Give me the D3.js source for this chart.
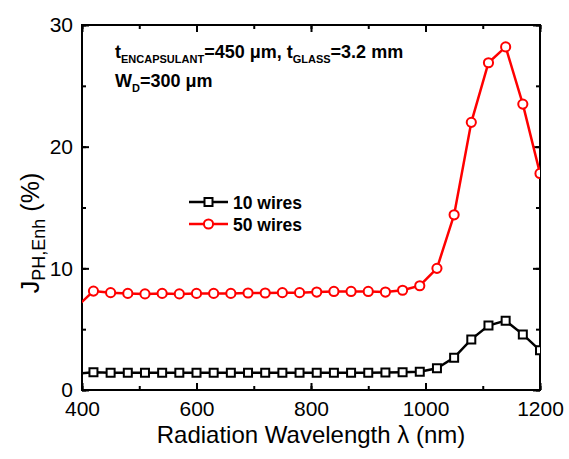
<!DOCTYPE html>
<html>
<head>
    <meta charset="utf-8">
    <style>
        body { margin: 0; background: #fff; }
        text { font-family: "Liberation Sans", Arial, sans-serif; }
        .axis path, .axis line { stroke: #000; }
        .axis text { font-size: 21px; fill: #000; }
        .note { font-size: 18px; font-weight: bold; }
    </style>
</head>
<body>
<div id="chart"></div>
<script src="https://cdn.jsdelivr.net/npm/d3@7"></script>
<script>

    // wavelengths (nm), one value every 30 nm
    var wavelength = [390, 420, 450, 480, 510, 540, 570, 600, 630, 660, 690, 720, 750, 780,
        810, 840, 870, 900, 930, 960, 990, 1020, 1050, 1080, 1110, 1140, 1170, 1200];

    var wires10 = [1.35, 1.45, 1.42, 1.42, 1.42, 1.42, 1.42, 1.42, 1.42, 1.42, 1.42, 1.42, 1.42, 1.42,
        1.42, 1.42, 1.42, 1.42, 1.43, 1.45, 1.5, 1.78, 2.66, 4.16, 5.3, 5.7, 4.57, 3.26];

    var wires50 = [6.8, 8.13, 8.0, 7.94, 7.9, 7.94, 7.9, 7.94, 7.94, 7.94, 7.97, 7.97, 8.0, 8.0,
        8.05, 8.1, 8.1, 8.1, 8.05, 8.2, 8.57, 10.0, 14.4, 22.0, 26.9, 28.2, 23.5, 17.8];

    var xTicks = [400, 600, 800, 1000, 1200];
    var yTicks = [0, 10, 20, 30];

    var width = 569, height = 459;
    var margin = {left: 82, right: 29, top: 25, bottom: 69};
    var iw = width - margin.left - margin.right;
    var ih = height - margin.top - margin.bottom;

    var svg = d3.select("#chart").append("svg")
        .attr("width", width)
        .attr("height", height);

    var g = svg.append("g")
        .attr("transform", "translate(" + margin.left + "," + margin.top + ")");

    var x = d3.scaleLinear().domain([400, 1200]).range([0, iw]);
    var y = d3.scaleLinear().domain([0, 30]).range([ih, 0]);

    g.append("clipPath").attr("id", "clip")
        .append("rect").attr("width", iw).attr("height", ih);

    // minor ticks first, then major ticks with labels
    function ticks(axis, vals, size) {
        return axis.tickValues(vals).tickSizeInner(-size).tickSizeOuter(0).tickFormat("");
    }
    var xMinor = d3.range(400, 1201, 100), yMinor = d3.range(0, 31, 5);

    g.append("g").attr("class", "axis").attr("transform", "translate(0," + ih + ")")
        .call(ticks(d3.axisBottom(x), xMinor, 4));
    g.append("g").attr("class", "axis")
        .call(ticks(d3.axisTop(x), xMinor, 4));
    g.append("g").attr("class", "axis")
        .call(ticks(d3.axisLeft(y), yMinor, 4));
    g.append("g").attr("class", "axis").attr("transform", "translate(" + iw + ",0)")
        .call(ticks(d3.axisRight(y), yMinor, 4));

    g.append("g").attr("class", "axis").attr("transform", "translate(0," + ih + ")")
        .call(d3.axisBottom(x).tickValues(xTicks).tickFormat(d3.format("d"))
            .tickSizeInner(-7).tickSizeOuter(0).tickPadding(11));
    g.append("g").attr("class", "axis")
        .call(d3.axisLeft(y).tickValues(yTicks).tickFormat(d3.format("d"))
            .tickSizeInner(-7).tickSizeOuter(0).tickPadding(9));
    g.append("g").attr("class", "axis")
        .call(ticks(d3.axisTop(x), xTicks, 7));
    g.append("g").attr("class", "axis").attr("transform", "translate(" + iw + ",0)")
        .call(ticks(d3.axisRight(y), yTicks, 7));

    g.selectAll(".axis path").remove();
    g.selectAll(".axis line").attr("stroke-width", 2);

    g.append("rect")
        .attr("width", iw).attr("height", ih)
        .attr("fill", "none").attr("stroke", "#000").attr("stroke-width", 2);

    var line = d3.line()
        .x(function (d) { return x(d[0]); })
        .y(function (d) { return y(d[1]); });

    var plot = g.append("g").attr("clip-path", "url(#clip)");

    var series = [
        {name: "10 wires", values: wires10, color: "#000", shape: d3.symbolSquare},
        {name: "50 wires", values: wires50, color: "#ff0000", shape: d3.symbolCircle}
    ];

    series.forEach(function (s) {
        var pts = wavelength.map(function (w, i) { return [w, s.values[i]]; });
        plot.append("path")
            .datum(pts)
            .attr("fill", "none")
            .attr("stroke", s.color)
            .attr("stroke-width", 2.5)
            .attr("d", line);
        plot.selectAll(null)
            .data(pts)
            .enter().append("path")
            .attr("transform", function (d) { return "translate(" + x(d[0]) + "," + y(d[1]) + ")"; })
            .attr("d", d3.symbol().type(s.shape).size(s.shape === d3.symbolSquare ? 64 : 66))
            .attr("fill", "#fff")
            .attr("stroke", s.color)
            .attr("stroke-width", 2);
    });

    // legend
    var legend = g.append("g").attr("transform", "translate(107,177)");
    series.forEach(function (s, i) {
        var row = legend.append("g").attr("transform", "translate(0," + (i * 22) + ")");
        row.append("line").attr("x1", 0).attr("x2", 39)
            .attr("stroke", s.color).attr("stroke-width", 2.5);
        row.append("path").attr("transform", "translate(19.5,0)")
            .attr("d", d3.symbol().type(s.shape).size(s.shape === d3.symbolSquare ? 64 : 66))
            .attr("fill", "#fff").attr("stroke", s.color).attr("stroke-width", 2);
        row.append("text").attr("class", "note")
            .attr("x", 44).attr("y", 6.5)
            .style("font-size", "17.5px")
            .text(s.name);
    });

    // annotation
    var note = svg.append("text").attr("class", "note").attr("x", 115).attr("y", 58);
    note.append("tspan").text("t");
    note.append("tspan").attr("dy", 5).style("font-size", "11px").text("ENCAPSULANT");
    note.append("tspan").attr("dy", -5).text("=450 \u03bcm, t");
    note.append("tspan").attr("dy", 5).style("font-size", "11px").text("GLASS");
    note.append("tspan").attr("dy", -5).text("=3.2 mm");

    var note2 = svg.append("text").attr("class", "note").attr("x", 115).attr("y", 87);
    note2.append("tspan").text("W");
    note2.append("tspan").attr("dy", 5).style("font-size", "11px").text("D");
    note2.append("tspan").attr("dy", -5).text("=300 \u03bcm");

    // axis titles
    svg.append("text")
        .attr("x", margin.left + iw / 2).attr("y", 443)
        .attr("text-anchor", "middle")
        .style("font-size", "24px")
        .text("Radiation Wavelength \u03bb (nm)");

    var yl = svg.append("text")
        .attr("transform", "translate(39,233) rotate(-90)")
        .attr("text-anchor", "middle")
        .style("font-size", "25px");
    yl.append("tspan").text("J");
    yl.append("tspan").attr("dy", 6).style("font-size", "18px").text("PH,Enh");
    yl.append("tspan").attr("dy", -6).attr("dx", 7).text("(%)");

</script>
</body>
</html>
